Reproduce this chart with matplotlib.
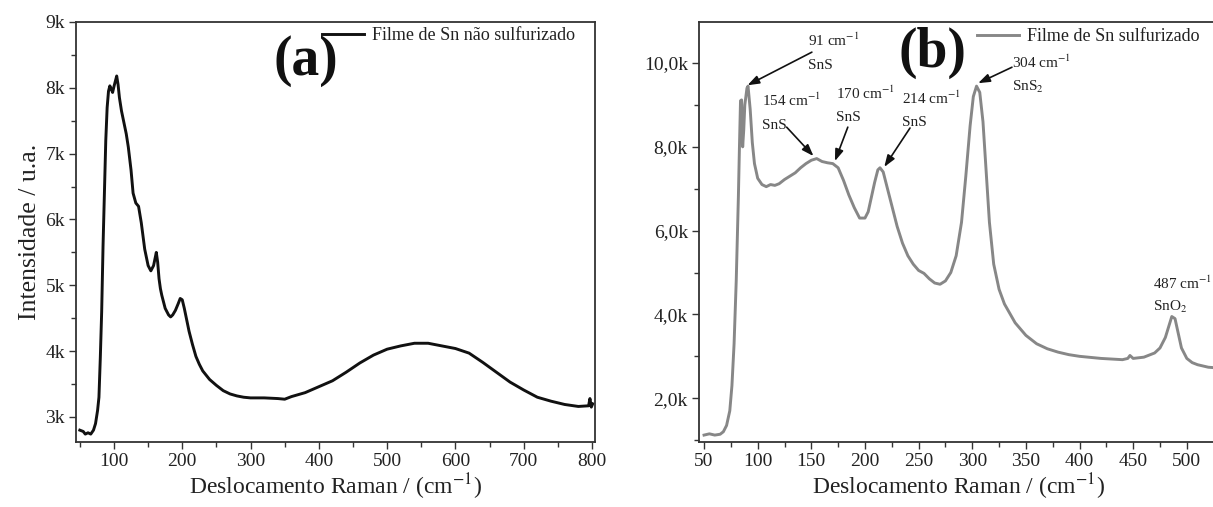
import matplotlib
matplotlib.use("Agg")
import matplotlib.pyplot as plt

# ---------------- data ----------------
a_x = [50, 55, 58, 62, 66, 70, 73, 76, 78, 80, 82, 84, 86, 88, 90, 92, 94, 96, 98, 100,
       102, 104, 106, 108, 111, 115, 118, 121, 125, 128, 132, 136, 140, 145, 150, 154,
       158, 160, 162, 164, 166, 168, 170, 175, 180, 183, 186, 190, 194, 197, 200, 203,
       206, 210, 215, 220, 225, 230, 240, 250, 260, 270, 280, 290, 300, 320, 340, 350,
       360, 380, 400, 420, 440, 460, 480, 500, 520, 540, 560, 580, 600, 620, 640, 660,
       680, 700, 720, 740, 760, 780, 795, 797, 799, 801]
a_y = [2.80, 2.78, 2.74, 2.76, 2.74, 2.80, 2.90, 3.10, 3.30, 3.90, 4.60, 5.60, 6.40, 7.20,
       7.70, 7.95, 8.03, 7.98, 7.93, 8.02, 8.10, 8.18, 8.05, 7.85, 7.65, 7.45, 7.30, 7.10,
       6.75, 6.40, 6.25, 6.20, 5.95, 5.55, 5.30, 5.22, 5.30, 5.40, 5.50, 5.35, 5.10, 4.95,
       4.85, 4.65, 4.55, 4.52, 4.55, 4.62, 4.72, 4.80, 4.78, 4.65, 4.50, 4.30, 4.10, 3.92,
       3.80, 3.70, 3.57, 3.48, 3.40, 3.35, 3.32, 3.30, 3.29, 3.29, 3.28, 3.27, 3.31, 3.37,
       3.46, 3.55, 3.68, 3.82, 3.94, 4.03, 4.08, 4.12, 4.12, 4.08, 4.04, 3.97, 3.83, 3.68,
       3.53, 3.41, 3.30, 3.24, 3.19, 3.16, 3.17, 3.28, 3.15, 3.20]

b_x = [50, 55, 60, 65, 68, 71, 74, 76, 78, 80, 82, 83, 84, 85, 86, 87, 88, 90, 91, 93,
       95, 97, 100, 104, 108, 112, 116, 120, 125, 130, 135, 140, 145, 150, 155, 160, 165,
       170, 175, 180, 185, 190, 195, 200, 203, 206, 209, 212, 214, 217, 220, 225, 230,
       235, 240, 245, 250, 255, 260, 265, 270, 275, 280, 285, 290, 294, 298, 301, 304,
       307, 310, 313, 316, 320, 325, 330, 340, 350, 360, 370, 380, 390, 400, 420, 440,
       445, 447, 450, 460, 470, 475, 480, 483, 486, 489, 492, 495, 500, 505, 510, 520, 530]
b_y = [1.12, 1.15, 1.12, 1.14, 1.20, 1.35, 1.70, 2.30, 3.30, 4.80, 6.80, 8.00, 9.10, 9.12,
       8.00, 8.40, 9.00, 9.40, 9.45, 8.90, 8.10, 7.60, 7.25, 7.10, 7.05, 7.10, 7.08, 7.12,
       7.22, 7.30, 7.38, 7.50, 7.60, 7.68, 7.72, 7.65, 7.62, 7.60, 7.50, 7.20, 6.85, 6.55,
       6.30, 6.30, 6.45, 6.80, 7.15, 7.45, 7.50, 7.40, 7.10, 6.60, 6.10, 5.70, 5.40, 5.20,
       5.05, 4.98, 4.85, 4.75, 4.72, 4.80, 5.00, 5.40, 6.20, 7.30, 8.50, 9.20, 9.45, 9.30,
       8.60, 7.40, 6.20, 5.20, 4.60, 4.25, 3.80, 3.50, 3.30, 3.18, 3.10, 3.04, 3.00, 2.95,
       2.92, 2.95, 3.02, 2.95, 2.98, 3.08, 3.20, 3.45, 3.70, 3.95, 3.90, 3.55, 3.20, 2.95,
       2.85, 2.80, 2.74, 2.72]

a_yticks = [3, 4, 5, 6, 7, 8, 9]
a_yticklabels = ["3k", "4k", "5k", "6k", "7k", "8k", "9k"]
a_xticks = [100, 200, 300, 400, 500, 600, 700, 800]
b_yticks = [2, 4, 6, 8, 10]
b_yticklabels = ["2,0k", "4,0k", "6,0k", "8,0k", "10,0k"]
b_xticks = [50, 100, 150, 200, 250, 300, 350, 400, 450, 500]

# annotations: label, species, text (x, y), arrow start, arrow end
b_notes = [
    ("91 cm$^{-1}$", "SnS", (147, 10.55), (147, 9.95), (150.5, 10.26), (90.5, 9.47)),
    ("154 cm$^{-1}$", "SnS", (104, 9.12), (104, 8.52), (127, 8.47), (152, 7.78)),
    ("170 cm$^{-1}$", "SnS", (173, 9.28), (173, 8.71), (184, 8.47), (172, 7.66)),
    ("214 cm$^{-1}$", "SnS", (234.5, 9.16), (234.5, 8.57), (242, 8.45), (218, 7.52)),
    ("304 cm$^{-1}$", "SnS$_2$", (337, 10.02), (337, 9.43), (337, 9.9), (305.5, 9.52)),
    ("487 cm$^{-1}$", "SnO$_2$", (468.4, 4.75), (468.4, 4.18), None, None),
]

# ---------------- style ----------------
plt.rcParams["font.family"] = ["Liberation Serif", "DejaVu Serif"]
plt.rcParams["mathtext.fontset"] = "stix"
TXT = "#222222"
SP = "#333333"

W, H = 1213, 507
fig = plt.figure(figsize=(W / 100, H / 100), dpi=100)
fig.patch.set_facecolor("white")

def px_axes(l, r, t, b):
    return [l / W, (H - b) / H, (r - l) / W, (b - t) / H]

ax1 = fig.add_axes(px_axes(76, 595, 22, 442))
ax2 = fig.add_axes(px_axes(699, 1219, 22, 442))

for ax in (ax1, ax2):
    for s in ax.spines.values():
        s.set_color(SP)
        s.set_linewidth(1.3)
    ax.tick_params(which="both", direction="out", colors=SP, labelcolor=TXT,
                   labelsize=14, width=1.0, top=False, right=False)
    ax.tick_params(which="major", length=5, pad=3)
    ax.tick_params(which="minor", length=3.5)

# ---- panel (a)
ax1.plot(a_x, a_y, color="#111111", lw=2.1, label="Filme de Sn não sulfurizado")
ax1.set_xlim(44.4, 804.4)
ax1.set_ylim(2.62, 9.0)
ax1.set_yticks(a_yticks)
ax1.set_yticklabels(a_yticklabels)
ax1.set_yticks([v + 0.5 for v in a_yticks[:-1]], minor=True)
ax1.set_xticks(a_xticks)
ax1.set_xticks([v - 50 for v in a_xticks], minor=True)
ax1.set_xlabel("Deslocamento Raman / (cm$^{-1}$)", fontsize=17, color=TXT, labelpad=1)
ax1.set_ylabel("Intensidade / u.a.", fontsize=18.5, color=TXT, labelpad=3)
ax1.text(381, 8.41, "(a)", fontsize=40, fontweight="bold", ha="center", va="center",
         color="#111111")
ax1.legend(loc="upper left", bbox_to_anchor=(0.474, 0.988), frameon=False,
           fontsize=13, handlelength=2.3, handletextpad=0.45, borderpad=0,
           borderaxespad=0, labelcolor=TXT)

# ---- panel (b)
ax2.plot(b_x, b_y, color="#878787", lw=2.1, label="Filme de Sn sulfurizado")
ax2.set_xlim(45.3, 530)
ax2.set_ylim(0.955, 10.98)
ax2.set_yticks(b_yticks)
ax2.set_yticklabels(b_yticklabels)
ax2.set_yticks([1, 3, 5, 7, 9], minor=True)
ax2.set_xticks(b_xticks)
ax2.set_xticks([v + 25 for v in b_xticks], minor=True)
ax2.set_xlabel("Deslocamento Raman / (cm$^{-1}$)", fontsize=17, color=TXT, labelpad=1)
ax2.text(262.5, 10.24, "(b)", fontsize=40, fontweight="bold", ha="center", va="center",
         color="#111111")
ax2.legend(loc="upper left", bbox_to_anchor=(0.535, 0.985), frameon=False,
           fontsize=13, handlelength=2.3, handletextpad=0.45, borderpad=0,
           borderaxespad=0, labelcolor=TXT)

for lab, sp, p1, p2, a0, a1 in b_notes:
    ax2.text(p1[0], p1[1], lab, fontsize=11, ha="left", va="center", color=TXT)
    ax2.text(p2[0], p2[1], sp, fontsize=11, ha="left", va="center", color=TXT)
    if a0 is not None:
        ax2.annotate("", xy=a1, xytext=a0,
                     arrowprops=dict(arrowstyle="-|>,head_length=0.7,head_width=0.25",
                                     color="#111111", lw=1.2, shrinkA=0, shrinkB=0))

fig.savefig("out.png", dpi=100, facecolor="white")
